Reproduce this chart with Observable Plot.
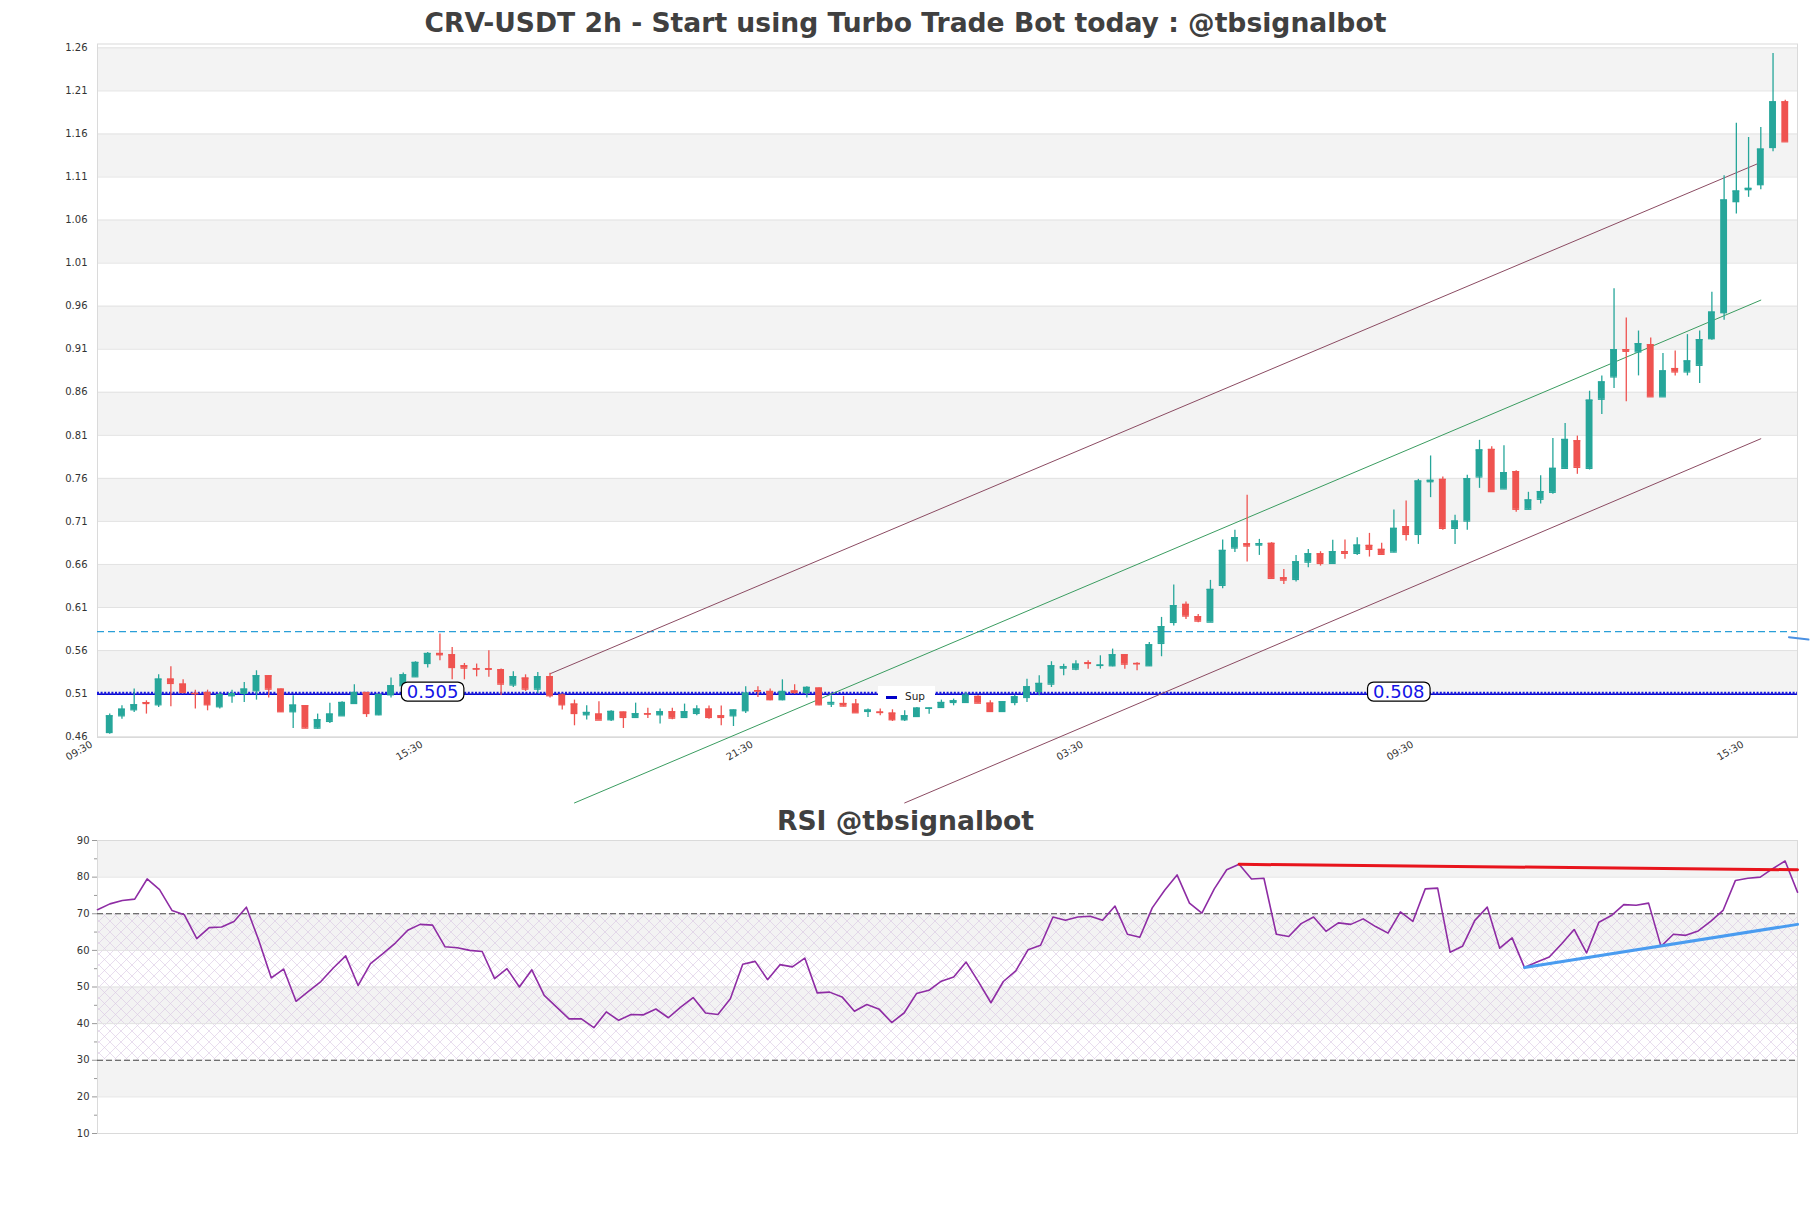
<!DOCTYPE html>
<html><head><meta charset="utf-8">
<script src="https://cdn.jsdelivr.net/npm/d3@7"></script>
<script src="https://cdn.jsdelivr.net/npm/@observablehq/plot@0.6"></script>
<style>
body{margin:0;background:#fff;font-family:"DejaVu Sans",sans-serif;}
#wrap{position:relative;width:1811px;height:1208px;overflow:hidden;background:#fff;}
.title{position:absolute;left:0;width:1811px;text-align:center;font-weight:bold;color:#404040;font-size:26.6px;line-height:30px;white-space:nowrap;}
#legend{position:absolute;left:878px;top:686px;width:57px;height:21px;background:#fff;}
#legend .ln{position:absolute;left:8px;top:10px;width:11px;height:2.5px;background:#0000c8;}
#legend .tx{position:absolute;left:27px;top:0;line-height:21px;font-size:10.5px;color:#222;}
</style></head><body>
<div id="wrap">
  <div id="p1" style="position:absolute;left:0;top:0"></div>
  <div id="p2" style="position:absolute;left:0;top:800px"></div>
  <div class="title" style="top:8px">CRV-USDT 2h - Start using Turbo Trade Bot today : @tbsignalbot</div>
  <div class="title" style="top:806px">RSI @tbsignalbot</div>
  <div id="legend"><div class="ln"></div><div class="tx">Sup</div></div>
</div>
<script>
// ---------- data ----------
const tickIdx = [0, 27, 54, 81, 108, 135];
const tickLabels = ["09:30", "15:30", "21:30", "03:30", "09:30", "15:30"];
const priceTicks = [0.46,0.51,0.56,0.61,0.66,0.71,0.76,0.81,0.86,0.91,0.96,1.01,1.06,1.11,1.16,1.21,1.26];
const priceBands = [0.51,0.61,0.71,0.81,0.91,1.01,1.11,1.21];

const open = [.4648,.4842,.4912,.4995,.4970,.5268,.5210,.5102,.5113,.4947,.5075,.5102,.5133,.5307,.5152,.4889,.4959,.4699,.4777,.4842,
.4985,.5113,.4854,.5086,.5191,.5295,.5450,.5566,.5551,.5423,.5388,.5388,.5377,.5200,.5280,.5152,.5296,.5083,.4978,.4854,
.4862,.4796,.4885,.4823,.4866,.4854,.4889,.4823,.4870,.4920,.4842,.4842,.4901,.5133,.5125,.5029,.5130,.5113,.5164,.4978,
.4985,.4978,.4893,.4885,.4873,.4796,.4834,.4930,.4939,.4997,.4997,.5067,.4989,.4892,.4997,.5055,.5125,.5210,.5396,.5384,
.5458,.5427,.5423,.5551,.5450,.5423,.5683,.5927,.6136,.5993,.5930,.6357,.6791,.6840,.6825,.6845,.6445,.6426,.6627,.6724,
.6612,.6748,.6729,.6821,.6775,.6744,.7038,.6949,.7561,.7588,.7019,.7104,.7616,.7936,.7477,.7678,.7241,.7357,.7438,.7716,
.8037,.7716,.8519,.8778,.9095,.9068,.9153,.8547,.8875,.8836,.8913,.9222,.9524,1.0814,1.0953,1.1011,1.1443,1.1973];
const high = [.4862,.4958,.5152,.5016,.5318,.5411,.5260,.5140,.5140,.5113,.5140,.5230,.5365,.5307,.5152,.5075,.4959,.4862,.4989,.5005,
.5203,.5113,.5094,.5280,.5340,.5470,.5578,.5791,.5636,.5450,.5443,.5598,.5385,.5354,.5318,.5346,.5335,.5094,.5024,.4958,
.5005,.4900,.4885,.4989,.4931,.4920,.4931,.4978,.4959,.4955,.4955,.4909,.5179,.5179,.5152,.5260,.5203,.5179,.5164,.5075,
.5067,.5032,.4920,.4920,.4912,.4900,.4939,.4932,.5024,.5036,.5113,.5075,.5016,.5005,.5082,.5268,.5307,.5470,.5442,.5481,
.5481,.5539,.5617,.5551,.5458,.5694,.5985,.6361,.6163,.6020,.6415,.6883,.6996,.7403,.6891,.6853,.6542,.6705,.6775,.6748,
.6880,.6883,.6911,.6961,.6845,.7232,.7337,.7588,.7860,.7615,.7170,.7635,.8042,.7967,.7979,.7689,.7438,.7631,.8064,.8238,
.8091,.8612,.8790,.9802,.9462,.9311,.9230,.9049,.9080,.9269,.9311,.9763,1.1115,1.1725,1.1559,1.1675,1.2536,1.1992];
const low = [.4629,.4803,.4881,.4862,.4939,.4947,.5102,.4920,.4900,.4920,.4989,.4997,.5024,.5050,.4881,.4695,.4695,.4688,.4754,.4842,
.4978,.4823,.4842,.5050,.5180,.5290,.5396,.5481,.5260,.5260,.5295,.5290,.5077,.5172,.5125,.5102,.5048,.4908,.4726,.4792,
.4792,.4777,.4695,.4823,.4811,.4748,.4796,.4820,.4842,.4803,.4726,.4718,.4870,.5055,.5016,.5016,.5094,.5048,.4958,.4939,
.4947,.4877,.4823,.4842,.4776,.4776,.4822,.4861,.4931,.4958,.4989,.4989,.4892,.4892,.4958,.4997,.5075,.5171,.5307,.5365,
.5384,.5384,.5411,.5384,.5365,.5415,.5528,.5884,.5962,.5923,.5930,.6318,.6740,.6628,.6705,.6434,.6368,.6395,.6561,.6581,
.6600,.6659,.6705,.6686,.6709,.6736,.6872,.6833,.7376,.6996,.6833,.6996,.7484,.7438,.7477,.7206,.7233,.7303,.7415,.7708,
.7647,.7697,.8342,.8643,.8489,.8790,.8547,.8547,.8790,.8790,.8701,.9203,.9435,1.0671,1.0864,1.0953,1.1393,1.1509];
const close = [.4842,.4919,.4970,.4985,.5268,.5218,.5113,.5099,.4970,.5086,.5100,.5152,.5307,.5152,.4889,.4966,.4699,.4796,.4862,.4997,
.5113,.4869,.5086,.5191,.5318,.5462,.5566,.5551,.5403,.5396,.5385,.5383,.5210,.5296,.5152,.5296,.5075,.4970,.4869,.4881,
.4792,.4893,.4823,.4866,.4862,.4889,.4815,.4889,.4920,.4823,.4823,.4909,.5105,.5130,.5029,.5125,.5113,.5172,.4970,.4997,
.4955,.4877,.4908,.4880,.4796,.4842,.4931,.4932,.4997,.5016,.5082,.4989,.4892,.5005,.5063,.5179,.5218,.5423,.5411,.5442,
.5450,.5431,.5551,.5442,.5446,.5667,.5877,.6121,.6001,.5942,.6310,.6763,.6911,.6814,.6841,.6438,.6418,.6631,.6724,.6612,
.6748,.6729,.6825,.6775,.6717,.7019,.6949,.7569,.7577,.7019,.7104,.7596,.7930,.7446,.7666,.7241,.7349,.7446,.7716,.8052,
.7728,.8508,.8720,.9095,.9076,.9164,.8547,.8848,.8836,.8964,.9211,.9531,1.0833,1.0937,1.0968,1.1424,1.1973,1.1509];

const supLevel = 0.5092;
const supLabelTexts = ["0.505", "0.508"];
const supLabelPos = [26.4, 105.4];
const resLevel = 0.5820;
const resTail = [[137.3, 0.5755], [138.9, 0.5728]];
const channelUpper = [[36, 0.533], [135, 1.127]];
const channelMid = [[38, 0.383], [135, 0.967]];
const channelLower = [[65, 0.383], [135, 0.806]];

const rsi = [71.1,72.7,73.6,74.0,79.5,76.6,70.9,69.7,63.2,66.2,66.4,67.9,71.8,62.7,52.5,54.9,46.1,48.8,51.5,55.2,
58.5,50.4,56.4,59.1,62.0,65.5,67.1,66.9,61.0,60.7,60.0,59.7,52.3,55.0,50.0,54.7,47.7,44.5,41.3,41.3,
38.9,43.2,40.9,42.5,42.4,44.0,41.6,44.5,47.1,42.9,42.5,46.8,56.2,57.0,52.0,56.1,55.5,57.9,48.4,48.6,
47.3,43.4,45.2,43.9,40.3,42.9,48.2,49.1,51.6,52.7,56.8,51.4,45.7,51.5,54.4,60.2,61.4,69.1,68.2,69.1,
69.3,68.2,72.1,64.4,63.6,71.6,76.4,80.6,72.9,70.2,76.8,82.0,83.5,79.5,79.7,64.4,63.8,67.3,69.1,65.2,
67.5,67.1,68.6,66.5,64.7,70.5,67.9,76.8,77.0,59.5,61.1,68.2,71.8,60.6,63.4,55.3,56.8,58.2,61.8,65.7,
59.3,67.7,69.5,72.5,72.3,72.9,61.1,64.4,64.1,65.3,67.9,70.9,79.1,79.7,80.0,82.3,84.4,75.9];
const rsiRed = [[92, 83.5], [137, 82.0]];
const rsiBlue = [[115, 55.3], [137, 67.1]];
const rsiTicks = [10,20,30,40,50,60,70,80,90];
const rsiMinor = [15,25,35,45,55,65,75,85];
const rsiBands = [20,40,60,80];
const rsiLevels = [30, 70];

// ---------- styles ----------
const UP = "#26a69a", DOWN = "#ef5350";
const candles = open.map((o, i) => ({i, o, h: high[i], l: low[i], c: close[i], col: close[i] >= o ? UP : DOWN}));
const labels = supLabelTexts.map((t, k) => ({t, i: supLabelPos[k]}));
const ticks = tickIdx.map((i, k) => ({i, t: tickLabels[k]}));
const baseStyle = {background: "transparent", fontFamily: "DejaVu Sans, sans-serif", fontSize: "10px", color: "#333", overflow: "visible"};

const svg1 = Plot.plot({
  width: 1811, height: 830,
  marginLeft: 97, marginRight: 14, marginTop: 43.5, marginBottom: 93,
  style: baseStyle,
  color: {type: "identity"},
  x: {domain: [-1, 138], axis: null},
  y: {domain: [0.459, 1.2645], ticks: priceTicks, tickFormat: d3.format(".2f"), tickSize: 0, tickPadding: 10, label: null},
  marks: [
    Plot.rect(priceBands, {y1: d => d, y2: d => d + 0.05, fill: "#f3f3f3"}),
    Plot.ruleY(priceTicks, {stroke: "#e2e2e2", strokeWidth: 1}),
    Plot.frame({stroke: "#dadada"}),
    Plot.ruleY([resLevel], {stroke: "#2a9fd8", strokeWidth: 1.3, strokeDasharray: "7,4"}),
    Plot.line(resTail, {x: d => d[0], y: d => d[1], stroke: "#4a90e2", strokeWidth: 2}),
    Plot.ruleY([supLevel], {stroke: "#0000c8", strokeWidth: 1.4}),
    Plot.ruleY([supLevel], {stroke: "#1a1ae0", strokeWidth: 3, strokeDasharray: "2,1.6", dy: -1}),
    Plot.line(channelUpper, {x: d => d[0], y: d => d[1], stroke: "#8b4b62", strokeWidth: 1}),
    Plot.line(channelMid, {x: d => d[0], y: d => d[1], stroke: "#3a9c60", strokeWidth: 1}),
    Plot.line(channelLower, {x: d => d[0], y: d => d[1], stroke: "#8b4b62", strokeWidth: 1}),
    Plot.ruleX(candles, {x: "i", y1: "l", y2: "h", stroke: "col", strokeWidth: 1.3}),
    Plot.rect(candles, {x1: d => d.i - 0.28, x2: d => d.i + 0.28, y1: "o", y2: "c", fill: "col"}),
    Plot.ruleY(candles, {x1: d => d.i - 0.28, x2: d => d.i + 0.28, y: "c", stroke: "col", strokeWidth: 1.3}),
    Plot.ruleY(candles, {x1: d => d.i - 0.28, x2: d => d.i + 0.28, y: "o", stroke: "col", strokeWidth: 1.3}),
    Plot.text(labels, {x: "i", y: () => supLevel, text: "t", fill: "#1414e6", fontSize: 18, dy: -2}),
    Plot.text(ticks, {x: "i", frameAnchor: "bottom", text: "t", rotate: -30, textAnchor: "end", lineAnchor: "middle", dx: -18, dy: 6, fontSize: 10, fill: "#333"})
  ]
});
document.getElementById("p1").append(svg1);
const NS = "http://www.w3.org/2000/svg";
svg1.querySelectorAll("text").forEach(t => {
  if (supLabelTexts.includes(t.textContent)) {
    const b = t.getBBox();
    const r = document.createElementNS(NS, "rect");
    const cy = b.y + b.height / 2;
    r.setAttribute("x", b.x - 5.5);
    r.setAttribute("width", b.width + 11);
    r.setAttribute("y", cy - 9.5);
    r.setAttribute("height", 19);
    r.setAttribute("rx", 6);
    r.setAttribute("fill", "#fff");
    r.setAttribute("stroke", "#000");
    r.setAttribute("stroke-width", 1.2);
    if (t.getAttribute("transform")) r.setAttribute("transform", t.getAttribute("transform"));
    t.parentNode.insertBefore(r, t);
  }
});

const svg2 = Plot.plot({
  width: 1811, height: 400,
  marginLeft: 97, marginRight: 14, marginTop: 40, marginBottom: 67,
  style: baseStyle,
  x: {domain: [0, 137], axis: null},
  y: {domain: [10, 90], label: null},
  marks: [
    Plot.rect(rsiBands, {y1: d => d, y2: d => d + 10, fill: "#f3f3f3"}),
    Plot.rect([0], {y1: 30, y2: 70, fill: "url(#hatch)"}),
    Plot.ruleY(rsiTicks.filter(d => !rsiLevels.includes(d)), {stroke: "#e2e2e2"}),
    Plot.frame({stroke: "#dadada"}),
    Plot.ruleY(rsiLevels, {stroke: "#444", strokeWidth: 1.2, strokeDasharray: "6,3"}),
    Plot.axisY(rsiTicks, {tickSize: 5, tickPadding: 3, stroke: "#999", fill: "#333", label: null}),
    Plot.axisY(rsiMinor, {tickSize: 3, tickFormat: () => "", stroke: "#999", label: null}),
    Plot.line(rsi, {x: (d, i) => i, y: d => d, stroke: "#8e2ca4", strokeWidth: 1.6}),
    Plot.line(rsiRed, {x: d => d[0], y: d => d[1], stroke: "#e8141c", strokeWidth: 3}),
    Plot.line(rsiBlue, {x: d => d[0], y: d => d[1], stroke: "#4a9cf0", strokeWidth: 3})
  ]
});
const defs = document.createElementNS(NS, "defs");
defs.innerHTML = '<pattern id="hatch" patternUnits="userSpaceOnUse" width="11" height="11"><path d="M0,0L11,11M11,0L0,11" stroke="#d8c6e2" stroke-width="0.6" fill="none"/></pattern>';
svg2.prepend(defs);
document.getElementById("p2").append(svg2);
</script>
</body></html>
